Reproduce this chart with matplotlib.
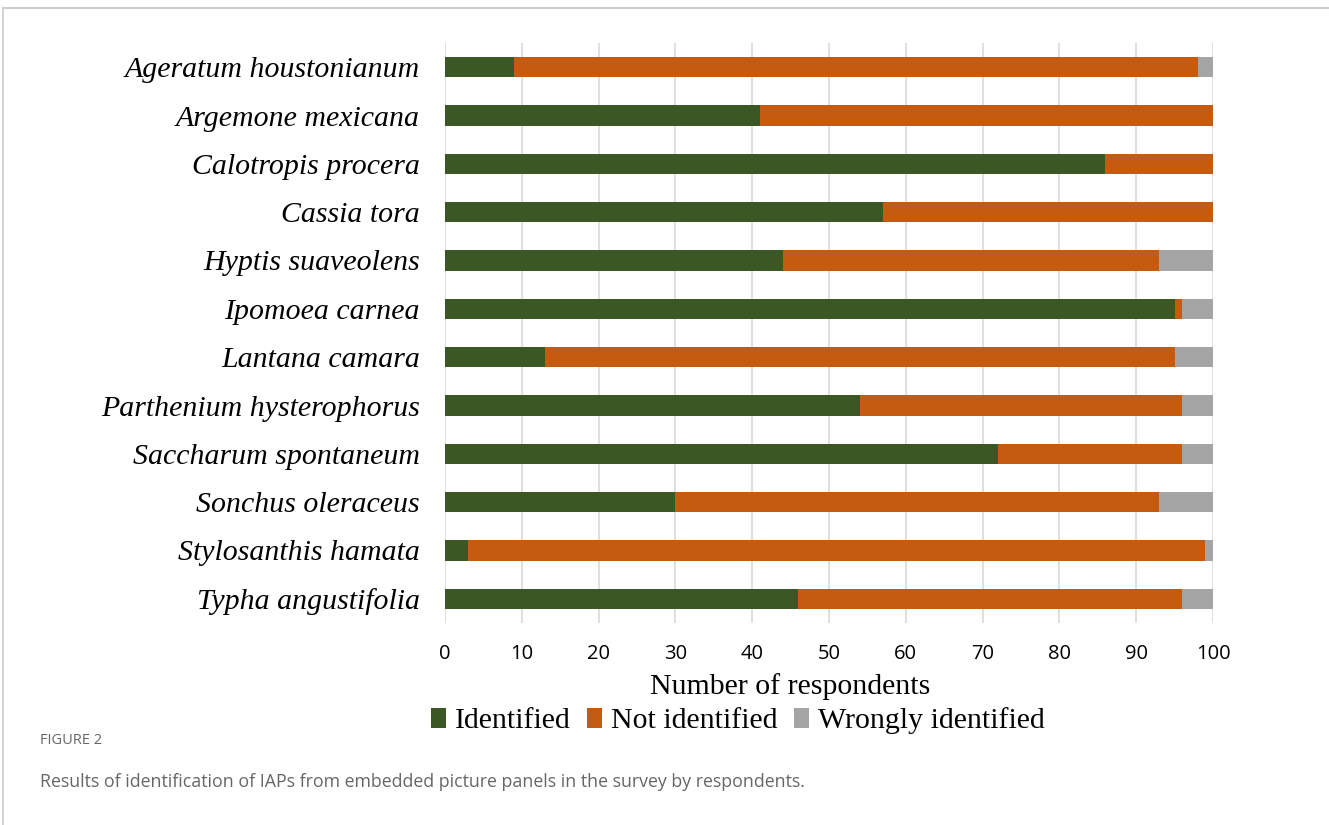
import matplotlib
matplotlib.use("Agg")
import matplotlib.pyplot as plt
from matplotlib.patches import Patch
from matplotlib.lines import Line2D
import numpy as np

species = ["Ageratum houstonianum", "Argemone mexicana", "Calotropis procera",
           "Cassia tora", "Hyptis suaveolens", "Ipomoea carnea", "Lantana camara",
           "Parthenium hysterophorus", "Saccharum spontaneum", "Sonchus oleraceus",
           "Stylosanthis hamata", "Typha angustifolia"]
identified = [9, 41, 86, 57, 44, 95, 13, 54, 72, 30, 3, 46]
not_identified = [89, 59, 14, 43, 49, 1, 82, 42, 24, 63, 96, 50]
wrongly = [2, 0, 0, 0, 7, 4, 5, 4, 4, 7, 1, 4]
series_names = ["Identified", "Not identified", "Wrongly identified"]
colors = ["#3B5724", "#C55A11", "#A5A5A5"]
xticks = [0, 10, 20, 30, 40, 50, 60, 70, 80, 90, 100]

W, H = 1329, 825
fig = plt.figure(figsize=(W / 100, H / 100), dpi=100)

ax = fig.add_axes([445 / W, 1 - 623 / H, (1213 - 445) / W, (623 - 43) / H])
y = np.arange(len(species))
left = np.zeros(len(species))
bar_h = 0.42
for vals, col in zip([identified, not_identified, wrongly], colors):
    vals = np.array(vals, dtype=float)
    ax.barh(y, vals, left=left, height=bar_h, color=col, edgecolor="none", zorder=3)
    left += vals

ax.set_ylim(len(species) - 0.5, -0.5)
ax.set_xlim(0, 100)
ax.set_xticks(xticks)
ax.set_xticklabels([str(t) for t in xticks], fontfamily="Open Sans", fontsize=14.5)
ax.set_yticks(y)
ax.set_yticklabels(species, fontfamily="Liberation Serif", fontstyle="italic", fontsize=21.5)
ax.tick_params(axis="x", length=0, pad=15)
ax.tick_params(axis="y", length=0, pad=18)
ax.grid(axis="x", color="#D9D9D9", linewidth=1.2, zorder=0)
for s in ax.spines.values():
    s.set_visible(False)
ax.set_xlabel("Number of respondents", fontfamily="Liberation Serif", fontsize=21.5, labelpad=5)
ax.xaxis.set_label_coords((790 - 445) / (1213 - 445), -0.086)

handles = [Patch(facecolor=c, edgecolor="none") for c in colors]
fig.legend(handles, series_names, loc="center", bbox_to_anchor=(738 / W, 1 - 721 / H),
           ncol=3, frameon=False, prop={"family": "Liberation Serif", "size": 21.5},
           handlelength=0.5, handleheight=0.7, handletextpad=0.3, columnspacing=0.55)

fig.text(40 / W, 1 - 741 / H, "FIGURE 2", fontfamily="Open Sans", fontsize=10.5,
         color="#666666", va="center", ha="left")
fig.text(40 / W, 1 - 782 / H,
         "Results of identification of IAPs from embedded picture panels in the survey by respondents.",
         fontfamily="Open Sans", fontsize=12.8, color="#666666", va="center", ha="left")

# card border (top and left)
fig.add_artist(Line2D([3 / W, 1], [1 - 8 / H, 1 - 8 / H], color="#CCCCCC", linewidth=1.5))
fig.add_artist(Line2D([3 / W, 3 / W], [0, 1 - 8 / H], color="#CCCCCC", linewidth=1.2))

fig.savefig("out.png", dpi=100)
